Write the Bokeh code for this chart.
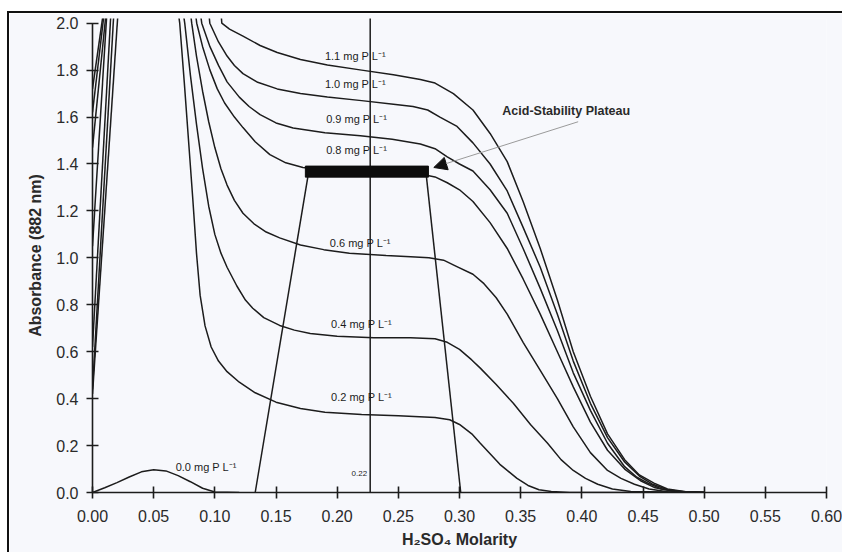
import numpy as np
from bokeh.plotting import figure
from bokeh.models import (Range1d, FixedTicker, PrintfTickFormatter,
                          Arrow, NormalHead, Label)
from bokeh.embed import file_html
from bokeh.resources import INLINE

# ---------------- data ----------------
x_ticks = [0.00, 0.05, 0.10, 0.15, 0.20, 0.25, 0.30, 0.35, 0.40, 0.45, 0.50, 0.55, 0.60]
y_ticks = [0.0, 0.2, 0.4, 0.6, 0.8, 1.0, 1.2, 1.4, 1.6, 1.8, 2.0]

# 0.0 mg P/L
p00_x = [0.0, 0.01, 0.02, 0.03, 0.04, 0.05, 0.06, 0.07, 0.08, 0.09, 0.10, 0.12]
p00_y = [0.0, 0.02, 0.042, 0.066, 0.088, 0.097, 0.092, 0.072, 0.046, 0.018, 0.002, 0.0]

# steep rising parts at very low acidity
p02_rise_x = [0.0, 0.0209]; p02_rise_y = [0.42, 2.05]
p04_rise_x = [0.0, 0.0175]; p04_rise_y = [0.44, 2.05]
p06_rise_x = [0.0, 0.0151]; p06_rise_y = [0.62, 2.05]
p08_rise_x = [0.0, 0.0118]; p08_rise_y = [1.05, 2.05]
p09_rise_x = [0.0, 0.0112]; p09_rise_y = [1.47, 2.05]
p10_rise_x = [0.0, 0.0097]; p10_rise_y = [1.62, 2.05]
p11_rise_x = [0.0, 0.0090]; p11_rise_y = [1.72, 2.05]

# falling parts
p02_fall_x = [0.070, 0.0713, 0.075, 0.0785, 0.082, 0.085, 0.088, 0.092, 0.097, 0.103, 0.110, 0.120,
              0.133, 0.150, 0.170, 0.190, 0.220, 0.250, 0.280, 0.292, 0.300, 0.310, 0.317, 0.325,
              0.333, 0.339, 0.347, 0.356, 0.365, 0.375, 0.390, 0.500]
p02_fall_y = [2.05, 2.0, 1.75, 1.50, 1.25, 1.02, 0.84, 0.71, 0.62, 0.56, 0.515, 0.47,
              0.425, 0.385, 0.358, 0.342, 0.332, 0.327, 0.32, 0.31, 0.29, 0.25, 0.21, 0.165,
              0.12, 0.094, 0.06, 0.03, 0.012, 0.004, 0.0, 0.0]

p04_fall_x = [0.074, 0.0754, 0.080, 0.085, 0.090, 0.095, 0.100, 0.105, 0.110, 0.118, 0.125, 0.131,
              0.140, 0.153, 0.165, 0.178, 0.200, 0.230, 0.260, 0.280, 0.290, 0.300, 0.310, 0.317,
              0.330, 0.344, 0.358, 0.372, 0.383, 0.393, 0.403, 0.413, 0.425, 0.440, 0.500]
p04_fall_y = [2.05, 2.0, 1.78, 1.57, 1.38, 1.22, 1.10, 1.02, 0.96, 0.88, 0.82, 0.785,
              0.745, 0.712, 0.692, 0.678, 0.666, 0.66, 0.66, 0.655, 0.64, 0.61, 0.565, 0.53,
              0.46, 0.38, 0.29, 0.21, 0.14, 0.094, 0.06, 0.035, 0.015, 0.004, 0.0]

p06_fall_x = [0.080, 0.0811, 0.085, 0.090, 0.095, 0.100, 0.105, 0.110, 0.116, 0.123, 0.132, 0.142,
              0.153, 0.170, 0.189, 0.210, 0.240, 0.260, 0.275, 0.287, 0.297, 0.311, 0.320, 0.330,
              0.339, 0.352, 0.366, 0.380, 0.393, 0.407, 0.421, 0.432, 0.443, 0.455, 0.470, 0.500]
p06_fall_y = [2.05, 2.0, 1.86, 1.71, 1.58, 1.47, 1.38, 1.31, 1.245, 1.19, 1.145, 1.11,
              1.085, 1.055, 1.035, 1.02, 1.01, 1.005, 1.0, 0.99, 0.965, 0.93, 0.89, 0.83,
              0.76, 0.64, 0.52, 0.40, 0.28, 0.17, 0.094, 0.06, 0.035, 0.015, 0.003, 0.0]

p08_fall_x = [0.084, 0.0852, 0.090, 0.096, 0.102, 0.108, 0.116, 0.123, 0.133, 0.145, 0.158, 0.172,
              0.200, 0.240, 0.270, 0.280, 0.290, 0.300, 0.311, 0.325, 0.339, 0.352, 0.366, 0.380,
              0.393, 0.407, 0.421, 0.435, 0.448, 0.460, 0.475, 0.500]
p08_fall_y = [2.05, 2.0, 1.90, 1.80, 1.72, 1.66, 1.60, 1.555, 1.495, 1.44, 1.405, 1.385,
              1.37, 1.36, 1.355, 1.345, 1.32, 1.29, 1.24, 1.15, 1.04, 0.91, 0.76, 0.60,
              0.45, 0.30, 0.18, 0.10, 0.05, 0.02, 0.005, 0.0]

p09_fall_x = [0.088, 0.0893, 0.096, 0.103, 0.110, 0.120, 0.128, 0.137, 0.150, 0.164, 0.190, 0.219,
              0.245, 0.268, 0.280, 0.290, 0.300, 0.311, 0.325, 0.339, 0.352, 0.366, 0.380, 0.393,
              0.407, 0.421, 0.435, 0.445, 0.454, 0.465, 0.480, 0.500]
p09_fall_y = [2.05, 2.0, 1.90, 1.82, 1.75, 1.685, 1.645, 1.61, 1.575, 1.553, 1.533, 1.52,
              1.505, 1.485, 1.465, 1.43, 1.40, 1.37, 1.29, 1.19, 1.04, 0.87, 0.69, 0.51,
              0.35, 0.21, 0.11, 0.065, 0.04, 0.015, 0.003, 0.0]

p10_fall_x = [0.095, 0.0959, 0.103, 0.110, 0.116, 0.123, 0.135, 0.151, 0.170, 0.192, 0.220, 0.246,
              0.262, 0.274, 0.284, 0.298, 0.311, 0.325, 0.339, 0.352, 0.366, 0.380, 0.393, 0.407,
              0.421, 0.435, 0.447, 0.458, 0.470, 0.485, 0.500]
p10_fall_y = [2.05, 2.0, 1.92, 1.86, 1.82, 1.785, 1.748, 1.72, 1.70, 1.685, 1.67, 1.655,
              1.645, 1.63, 1.60, 1.56, 1.49, 1.40, 1.285, 1.13, 0.96, 0.76, 0.56, 0.38,
              0.234, 0.13, 0.07, 0.035, 0.012, 0.002, 0.0]

p11_fall_x = [0.105, 0.1057, 0.112, 0.123, 0.137, 0.151, 0.170, 0.192, 0.220, 0.246, 0.268, 0.280,
              0.295, 0.311, 0.325, 0.339, 0.352, 0.366, 0.380, 0.393, 0.407, 0.421, 0.435, 0.447,
              0.459, 0.470, 0.485, 0.500]
p11_fall_y = [2.05, 2.0, 1.975, 1.945, 1.905, 1.875, 1.845, 1.822, 1.80, 1.78, 1.76, 1.745,
              1.70, 1.63, 1.53, 1.41, 1.24, 1.04, 0.82, 0.60, 0.41, 0.25, 0.14, 0.075,
              0.04, 0.015, 0.003, 0.0]

# acid-stability plateau construction
plateau_left, plateau_right = 0.174, 0.2746
plateau_bottom, plateau_top = 1.344, 1.391
trap_left_x = [0.133, 0.176]; trap_left_y = [0.0, 1.344]
trap_right_x = [0.301, 0.273]; trap_right_y = [0.0, 1.344]
mid_x = [0.227, 0.227]; mid_y = [0.0, 2.05]

curve_labels = ["1.1 mg P L\u207b\u00b9", "1.0 mg P L\u207b\u00b9", "0.9 mg P L\u207b\u00b9",
                "0.8 mg P L\u207b\u00b9", "0.6 mg P L\u207b\u00b9", "0.4 mg P L\u207b\u00b9",
                "0.2 mg P L\u207b\u00b9", "0.0 mg P L\u207b\u00b9"]
curve_label_x = [0.190, 0.190, 0.191, 0.191, 0.194, 0.195, 0.195, 0.068]
curve_label_y = [1.861, 1.742, 1.592, 1.459, 1.065, 0.719, 0.407, 0.107]

# ---------------- figure ----------------
FONT = "Liberation Sans"
INK = "#1c1c1c"
BG = "#f7f8fc"

# page offset of the figure's canvas inside its scanned black frame (measured)
OFF_X, OFF_Y = 10, 15

p = figure(width=843 - OFF_X, height=554 - OFF_Y, x_range=Range1d(0, 0.6), y_range=Range1d(0, 2.02),
           output_backend="svg", toolbar_location=None,
           min_border_left=93 - OFF_X, min_border_right=18, min_border_top=20 - OFF_Y,
           min_border_bottom=62)
p.styles = {"margin-left": "7px", "margin-top": "11px",
            "border-left": "2px solid #111111", "border-top": "2px solid #111111",
            "box-sizing": "content-box"}
p.background_fill_color = BG
p.border_fill_color = BG
p.outline_line_color = None
p.grid.visible = False

for ax, ticks, fmt in ((p.xaxis[0], x_ticks, "%.2f"), (p.yaxis[0], y_ticks, "%.1f")):
    ax.ticker = FixedTicker(ticks=ticks)
    ax.formatter = PrintfTickFormatter(format=fmt)
    ax.minor_tick_line_color = None
    ax.major_tick_in = 6
    ax.major_tick_out = 6
    ax.axis_line_color = INK
    ax.axis_line_width = 1.6
    ax.major_tick_line_color = INK
    ax.major_tick_line_width = 1.6
    ax.major_label_text_font = FONT
    ax.major_label_text_font_size = "16px"
    ax.major_label_text_color = "#2a2a2a"
    ax.axis_label_text_font = FONT
    ax.axis_label_text_font_size = "16px"
    ax.axis_label_text_font_style = "bold"
    ax.axis_label_text_color = "#2a2a2a"

p.xaxis.bounds = (0, 0.6)
p.yaxis.bounds = (0, 2.0)
p.xaxis.axis_label = "H\u2082SO\u2084 Molarity"
p.yaxis.axis_label = "Absorbance (882 nm)"
p.xaxis.major_label_standoff = 11
p.xaxis.axis_label_standoff = 6
p.yaxis.major_label_standoff = 8
p.yaxis.axis_label_standoff = 9

LW = 1.5
p.line(p00_x, p00_y, line_color=INK, line_width=LW)
for rx, ry, fx, fy in ((p02_rise_x, p02_rise_y, p02_fall_x, p02_fall_y),
                       (p04_rise_x, p04_rise_y, p04_fall_x, p04_fall_y),
                       (p06_rise_x, p06_rise_y, p06_fall_x, p06_fall_y),
                       (p08_rise_x, p08_rise_y, p08_fall_x, p08_fall_y),
                       (p09_rise_x, p09_rise_y, p09_fall_x, p09_fall_y),
                       (p10_rise_x, p10_rise_y, p10_fall_x, p10_fall_y),
                       (p11_rise_x, p11_rise_y, p11_fall_x, p11_fall_y)):
    p.line(rx, ry, line_color=INK, line_width=LW)
    p.line(fx, fy, line_color=INK, line_width=LW)

p.line(trap_left_x, trap_left_y, line_color=INK, line_width=LW)
p.line(trap_right_x, trap_right_y, line_color=INK, line_width=LW)
p.line(mid_x, mid_y, line_color=INK, line_width=LW)
p.quad(left=[plateau_left], right=[plateau_right], bottom=[plateau_bottom], top=[plateau_top],
       fill_color="#0d0d0d", line_color="#0d0d0d")

for t, lx, ly in zip(curve_labels, curve_label_x, curve_label_y):
    p.add_layout(Label(x=lx, y=ly, text=t, text_font=FONT, text_font_size="11px",
                       text_color=INK, text_baseline="middle", text_align="left"))

p.add_layout(Label(x=0.2245, y=0.08, text="0.22", text_font=FONT, text_font_size="8px",
                   text_color=INK, text_baseline="middle", text_align="right"))

p.add_layout(Label(x=0.335, y=1.626, text="Acid-Stability Plateau", text_font=FONT,
                   text_font_size="12.5px", text_font_style="bold", text_color="#2a2a2a",
                   text_baseline="middle", text_align="left"))
p.add_layout(Arrow(x_start=0.397, y_start=1.58, x_end=0.279, y_end=1.385,
                   line_color="#9a9a9a", line_width=1,
                   end=NormalHead(size=13, fill_color="#111111", line_color="#111111")))

open("out.html", "w").write(file_html(p, INLINE))
